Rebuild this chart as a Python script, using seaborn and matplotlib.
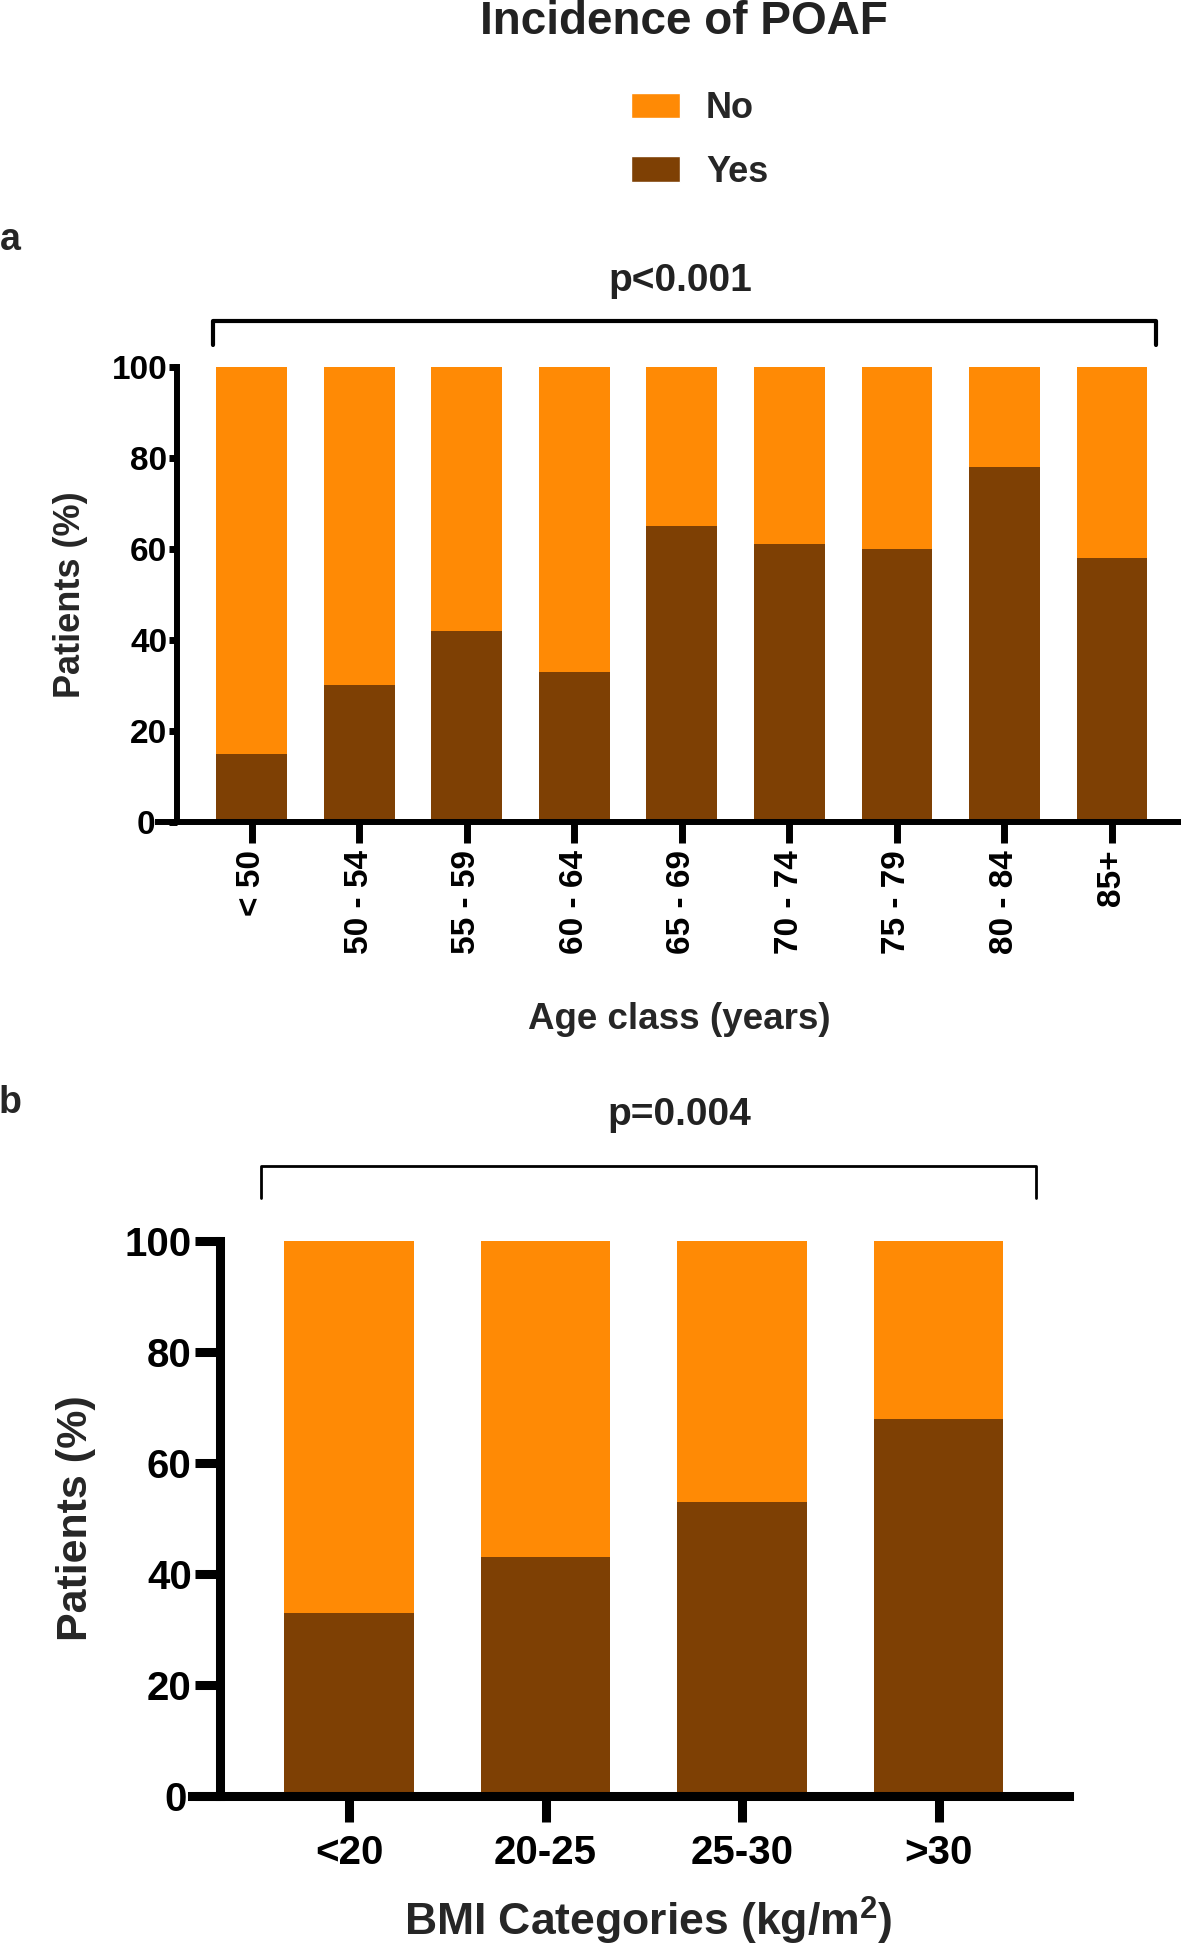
import matplotlib
matplotlib.use("Agg")
import matplotlib.pyplot as plt
import matplotlib.transforms as mtransforms
import seaborn as sns
from matplotlib.patches import Patch

# --- data (percent of patients) ---
age_classes = ["< 50", "50 - 54", "55 - 59", "60 - 64", "65 - 69",
               "70 - 74", "75 - 79", "80 - 84", "85+"]
age_yes = [15, 30, 42, 33, 65, 61, 60, 78, 58]
age_no = [85, 70, 58, 67, 35, 39, 40, 22, 42]

bmi_classes = ["<20", "20-25", "25-30", ">30"]
bmi_yes = [33, 43, 53, 68]
bmi_no = [67, 57, 47, 32]

p_age = "p<0.001"
p_bmi = "p=0.004"

ORANGE = "#FF8A05"
BROWN = "#7E4004"

W, H = 1181, 1944

sns.set_theme(style="ticks")
plt.rcParams["font.family"] = ["Liberation Sans", "DejaVu Sans"]
plt.rcParams["font.weight"] = "bold"
plt.rcParams["axes.labelweight"] = "bold"
plt.rcParams["mathtext.fontset"] = "custom"
plt.rcParams["mathtext.rm"] = "Liberation Sans:bold"
plt.rcParams["mathtext.bf"] = "Liberation Sans:bold"


def px(x, y):
    # pixel position (from top-left) -> figure fraction
    return x / W, 1 - y / H


def stacked(ax, cats, yes, no, spine_lw):
    total = [a + b for a, b in zip(yes, no)]
    sns.barplot(x=cats, y=total, color=ORANGE, saturation=1, width=0.66,
                linewidth=0, ax=ax)
    sns.barplot(x=cats, y=yes, color=BROWN, saturation=1, width=0.66,
                linewidth=0, ax=ax)
    ax.set_ylim(0, 100)
    ax.set_yticks([0, 20, 40, 60, 80, 100])
    sns.despine(ax=ax)
    for s in ("left", "bottom"):
        ax.spines[s].set_linewidth(spine_lw)
        ax.spines[s].set_color("black")
    ax.spines["left"].set_bounds(0, 100)


def nudge_zero(ax, dx_px):
    # the "0" label sits left of where the x axis starts
    lab = ax.get_yticklabels()[0]
    off = mtransforms.ScaledTranslation(dx_px / 100, 0, fig.dpi_scale_trans)
    lab.set_transform(lab.get_transform() + off)


fig = plt.figure(figsize=(W / 100, H / 100), dpi=100)

# ---------------- panel a ----------------
ax1 = fig.add_axes([158 / W, 1 - 822 / H, 1023 / W, 455 / H])
stacked(ax1, age_classes, age_yes, age_no, 4.3)
ax1.set_xlim(-0.874, 8.642)
ax1.spines["left"].set_position(("data", -0.698))
ax1.tick_params(axis="y", direction="out", length=6, width=5, pad=1,
                labelsize=24, colors="black")
ax1.tick_params(axis="x", direction="out", length=15, width=5, pad=5,
                labelsize=24, colors="black")
plt.setp(ax1.get_xticklabels(), rotation=90, ha="center", va="top",
         fontweight="bold")
plt.setp(ax1.get_yticklabels(), fontweight="bold")
nudge_zero(ax1, -12)
ax1.set_xlabel("Age class (years)", fontsize=26.5, fontweight="bold")
ax1.xaxis.label.set_va("center")
ax1.xaxis.set_label_coords(0.510, -0.433)
ax1.set_ylabel("Patients (%)", fontsize=26, fontweight="bold")
ax1.yaxis.label.set_va("center")
ax1.yaxis.set_label_coords(-0.086, 0.5)

n1 = len(age_classes)
ax1.plot([-0.363, -0.363, n1 - 1 + 0.41, n1 - 1 + 0.41],
         [104.8, 110.1, 110.1, 104.8], color="black", lw=3, clip_on=False)

# ---------------- panel b ----------------
ax2 = fig.add_axes([192 / W, 1 - 1796 / H, 877 / W, 555 / H])
stacked(ax2, bmi_classes, bmi_yes, bmi_no, 6.5)
ax2.set_xlim(-0.799, 3.664)
ax2.spines["left"].set_position(("data", -0.659))
ax2.tick_params(axis="y", direction="out", length=18, width=6.5, pad=2,
                labelsize=29, colors="black")
ax2.tick_params(axis="x", direction="out", length=19, width=6.5, pad=8,
                labelsize=29, colors="black")
plt.setp(ax2.get_xticklabels(), fontweight="bold")
plt.setp(ax2.get_yticklabels(), fontweight="bold")
nudge_zero(ax2, -5)
ax2.set_xlabel(r"BMI Categories (kg/m$^{\mathbf{2}}$)", fontsize=32,
               fontweight="bold")
ax2.xaxis.label.set_va("center")
ax2.xaxis.set_label_coords((648 - 192) / 877, -0.226)
ax2.set_ylabel("Patients (%)", fontsize=31, fontweight="bold")
ax2.yaxis.label.set_va("center")
ax2.yaxis.set_label_coords((76 - 192) / 877, 0.5)

n2 = len(bmi_classes)
ax2.plot([-0.448, -0.448, n2 - 1 + 0.496, n2 - 1 + 0.496],
         [107.7, 113.5, 113.5, 107.7], color="black", lw=2, clip_on=False)

# ---------------- texts / legend ----------------
fig.text(*px(684, 34), "Incidence of POAF", ha="center", va="baseline",
         fontsize=33, fontweight="bold", color="#222222")
fig.text(*px(680, 281), p_age, ha="center", va="center", fontsize=28,
         fontweight="bold", color="#222222")
fig.text(*px(679, 1115), p_bmi, ha="center", va="center", fontsize=28,
         fontweight="bold", color="#222222")
fig.text(*px(10, 240), "a", ha="center", va="center", fontsize=27,
         fontweight="bold")
fig.text(*px(10, 1103), "b", ha="center", va="center", fontsize=27,
         fontweight="bold")

handles = [Patch(facecolor=ORANGE, label="No"),
           Patch(facecolor=BROWN, label="Yes")]
fig.legend(handles=handles, loc="upper left", bbox_to_anchor=px(631, 91),
           frameon=False, handlelength=1.36, handleheight=0.72,
           handletextpad=0.72, labelspacing=0.8, borderpad=0,
           borderaxespad=0, prop={"weight": "bold", "size": 26})

fig.savefig("out.png", dpi=100)
